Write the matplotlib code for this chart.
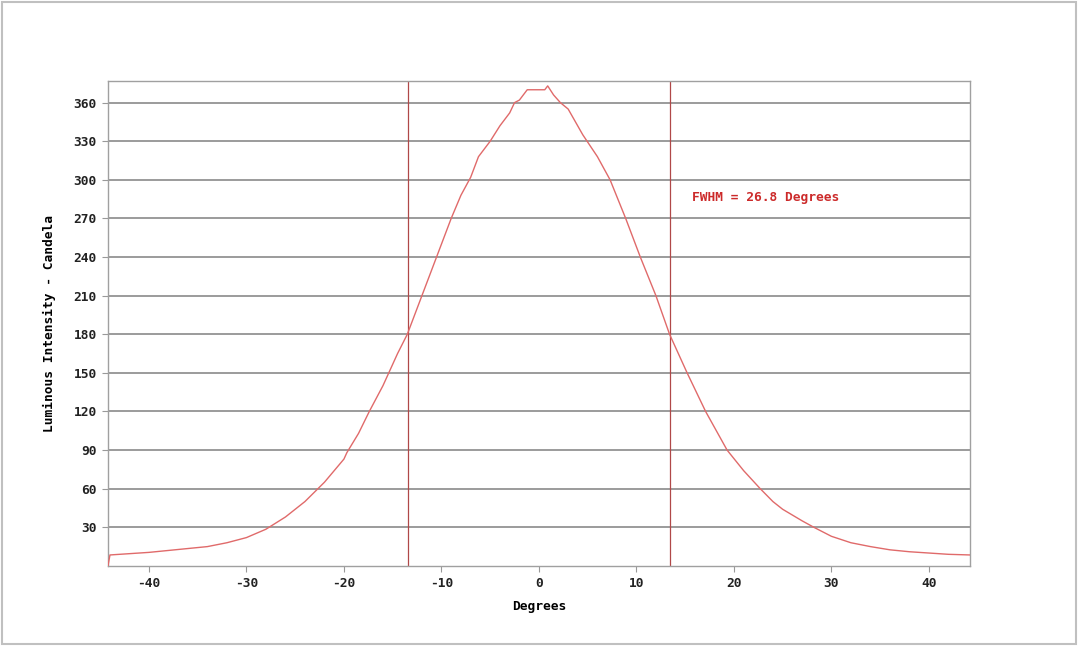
import matplotlib
matplotlib.use("Agg")
import matplotlib.pyplot as plt
from matplotlib.patches import Rectangle

plt.rcParams["axes.unicode_minus"] = False

# angle (degrees) and luminous intensity (candela)
angle = [-44.2, -44.0, -42, -40, -38, -36, -34, -32, -30, -28, -26, -24, -22, -20, -19.7,
         -18.5, -17.4, -16, -15.4, -14.5, -13.5, -12, -10.5, -9, -8, -7, -6.2, -5, -4, -3,
         -2.5, -2, -1.2, 0.6, 0.9, 1.5, 2.2, 3, 4.5, 6, 7.3, 8.9, 10.4, 12, 13.4, 15.2,
         17.1, 19.3, 21, 22.7, 24, 25, 27, 28.2, 30, 32, 34, 36, 38, 40, 42, 44.2]
intensity = [0, 8.5, 9.5, 10.5, 12, 13.5, 15, 18, 22, 28.5, 38, 50, 65, 83, 88,
             103, 120, 140, 150, 165, 180, 210, 240, 270, 288, 302, 318, 330, 342, 352,
             360, 362, 370, 370, 373, 366, 360, 355, 335, 318, 300, 270, 240, 210, 180, 150,
             120, 90, 74, 60, 50, 44, 35, 30, 23, 18, 15, 12.5, 11, 10, 9, 8.5]
fwhm_edges = [-13.4, 13.4]
fwhm_text = "FWHM = 26.8 Degrees"
xticks = [-40, -30, -20, -10, 0, 10, 20, 30, 40]
yticks = [30, 60, 90, 120, 150, 180, 210, 240, 270, 300, 330, 360]

mono = "DejaVu Sans Mono"
fig = plt.figure(figsize=(10.8, 6.46), dpi=100)
ax = fig.add_axes([0.1, 0.124, 0.798, 0.751])

for y in yticks:
    ax.axhline(y, color="#8a8a8a", lw=1.2, zorder=1)
for x in fwhm_edges:
    ax.axvline(x, color="#b04848", lw=0.9, zorder=2)
ax.plot(angle, intensity, color="#e06a6a", lw=1.0, zorder=3)

ax.text(15.7, 286, fwhm_text, color="#cc2a2a", fontsize=9.3, fontweight="bold",
        family=mono, va="center", ha="left")

ax.set_xlim(-44.2, 44.2)
ax.set_ylim(0, 377)
ax.set_xticks(xticks)
ax.set_yticks(yticks)
ax.tick_params(length=4, width=0.8, color="#999999", pad=4)
for lab in ax.get_xticklabels() + ax.get_yticklabels():
    lab.set_family(mono)
    lab.set_fontweight("bold")
    lab.set_fontsize(9.3)
    lab.set_color("#222222")
for s in ax.spines.values():
    s.set_color("#a0a0a0")
    s.set_linewidth(1.0)

ax.set_xlabel("Degrees", family=mono, fontsize=9.3, fontweight="bold", labelpad=7)
ax.set_ylabel("Luminous Intensity - Candela", family=mono, fontsize=9.3,
              fontweight="bold", labelpad=13)

# thin screenshot frame round the picture
fig.patches.append(Rectangle((0.002, 0.003), 0.994, 0.994, transform=fig.transFigure,
                             fill=False, edgecolor="#c0c0c0", lw=1.5))

fig.savefig("out.png", dpi=100)
